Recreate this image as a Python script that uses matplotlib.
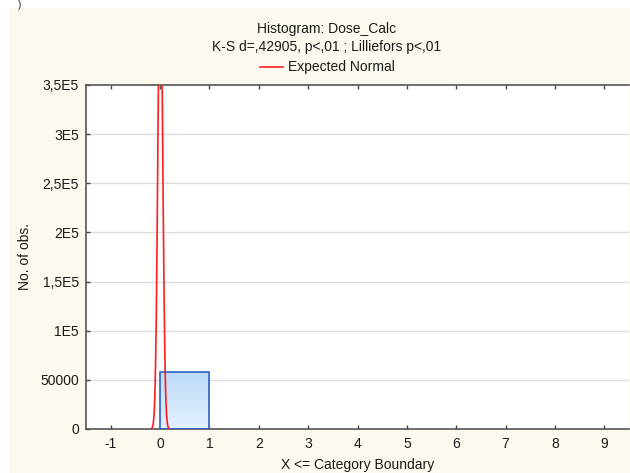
import numpy as np
import matplotlib
matplotlib.use("Agg")
import matplotlib.pyplot as plt
from matplotlib.patches import Rectangle
from matplotlib.colors import LinearSegmentedColormap

plt.rcParams['font.family'] = ['Liberation Sans', 'DejaVu Sans']

# Histogram bins (upper category boundaries) and counts
bin_left = [0.0]
bin_right = [1.0]
counts = [58000]

# Fitted normal parameters for the "Expected Normal" curve
fit_mean = 0.005
fit_sd = 0.048
n_obs = 58000
bin_width = 1.0
curve_range = (-0.17, 0.18)

x_ticks = [-1, 0, 1, 2, 3, 4, 5, 6, 7, 8, 9]
y_ticks = [0, 50000, 100000, 150000, 200000, 250000, 300000, 350000]
y_tick_labels = ['0', '50000', '1E5', '1,5E5', '2E5', '2,5E5', '3E5', '3,5E5']

W, H = 630, 473
FS = 10
fig = plt.figure(figsize=(W / 100, H / 100), dpi=100)
fig.patch.set_facecolor('white')

# cream chart panel
fig.patches.append(Rectangle((9 / W, 0), 1 - 9 / W, 1 - 8 / H,
                             transform=fig.transFigure, facecolor='#FEF9EE',
                             edgecolor='none', zorder=-10))
fig.text(20 / W, 1 - 5 / H, ')', fontsize=7, ha='center', va='center',
         color='#222222')

ax = fig.add_axes([86 / W, 1 - 429 / H, (629 - 86) / W, (429 - 85) / H])
ax.set_facecolor('white')

# grid lines
for yv in y_ticks[1:-1]:
    ax.axhline(yv, color='#DCDCDC', lw=1.0, zorder=1)

# bars with a vertical gradient fill
grad = np.linspace(0, 1, 256).reshape(-1, 1)
cmap = LinearSegmentedColormap.from_list('barfill', ['#E3F1FE', '#BCDAF8'])
for l, r, c in zip(bin_left, bin_right, counts):
    im = ax.imshow(grad, extent=[l, r, 0, c], origin='lower', aspect='auto',
                   cmap=cmap, zorder=2, interpolation='bilinear')
    rect = Rectangle((l, 0), r - l, c, facecolor='none', edgecolor='#2F5FC4',
                     lw=1.2, zorder=3)
    ax.add_patch(rect)
    im.set_clip_path(rect)
ax.set_xlim(-1.5, 9.5)
ax.set_ylim(0, 350000)

# expected normal curve
xs = np.linspace(curve_range[0], curve_range[1], 800)
ys = n_obs * bin_width / (fit_sd * np.sqrt(2 * np.pi)) * np.exp(-0.5 * ((xs - fit_mean) / fit_sd) ** 2)
ax.plot(xs, ys, color='#FF1E1E', lw=1.2, zorder=4)

ax.set_xticks(x_ticks)
ax.set_xticklabels([str(v) for v in x_ticks])
ax.set_yticks(y_ticks)
ax.set_yticklabels(y_tick_labels)
ax.tick_params(direction='in', length=3, width=1, colors='#444444',
               labelcolor='#1A1A1A', labelsize=FS, top=True, right=False)
ax.tick_params(axis='y', pad=5)
ax.tick_params(axis='x', pad=6)
for s in ax.spines.values():
    s.set_color('#555555')
    s.set_linewidth(1.2)
ax.spines['right'].set_visible(False)

ax.set_ylabel('No. of obs.', fontsize=FS, color='#1A1A1A', labelpad=6)
fig.text(358 / W, 1 - 465 / H, 'X <= Category Boundary', fontsize=FS,
         ha='center', va='center', color='#1A1A1A')

# title block with legend entry
fig.text(327 / W, 1 - 29 / H, 'Histogram: Dose_Calc', fontsize=FS,
         ha='center', va='center', color='#1A1A1A')
fig.text(327 / W, 1 - 47 / H, 'K-S d=,42905, p<,01 ; Lilliefors p<,01', fontsize=FS,
         ha='center', va='center', color='#1A1A1A')
fig.lines.append(plt.Line2D([260 / W, 283 / W], [1 - 67 / H, 1 - 67 / H],
                            transform=fig.transFigure, color='#FF1E1E', lw=1.2))
fig.text(288 / W, 1 - 67 / H, 'Expected Normal', fontsize=FS,
         ha='left', va='center', color='#1A1A1A')

fig.savefig('out.png', dpi=100)
